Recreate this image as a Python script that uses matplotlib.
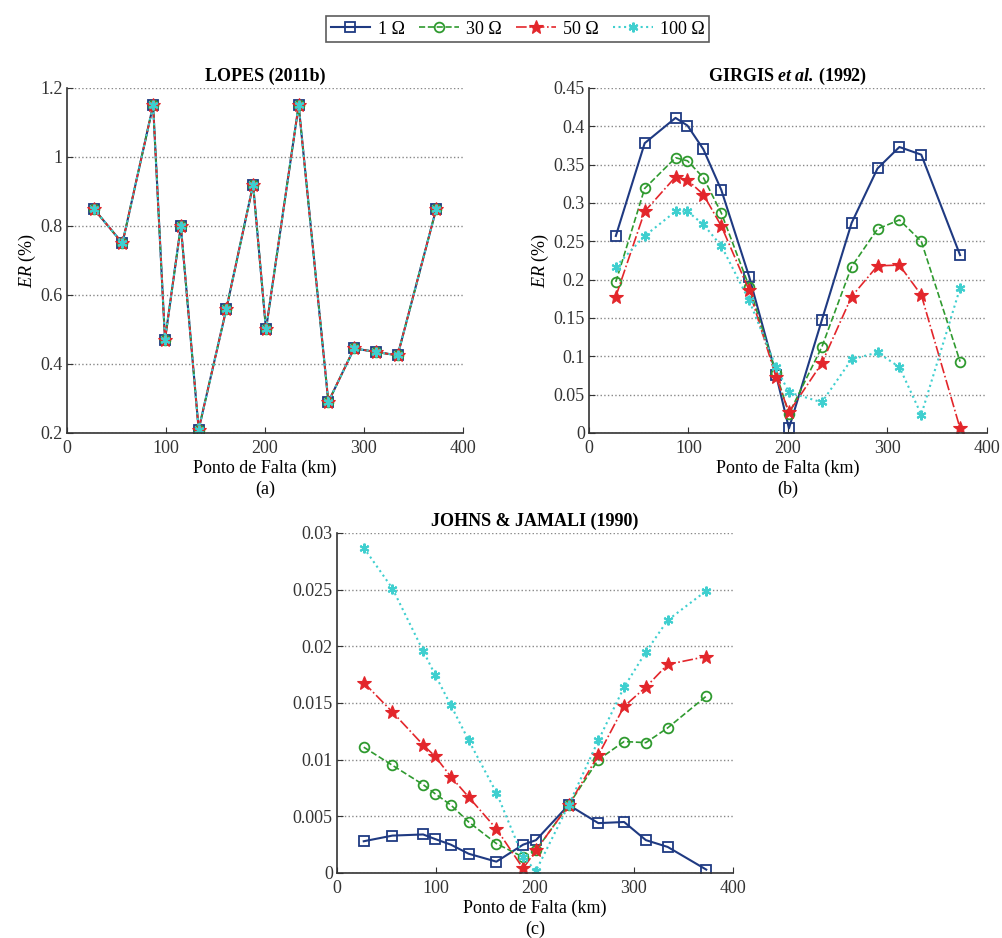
import matplotlib
matplotlib.use("Agg")
import matplotlib.pyplot as plt
from matplotlib.ticker import FuncFormatter

plt.rcParams['font.family'] = ['Liberation Serif', 'DejaVu Serif']
plt.rcParams['mathtext.fontset'] = 'custom'
plt.rcParams['mathtext.rm'] = 'Liberation Serif'
plt.rcParams['mathtext.it'] = 'Liberation Serif:italic'
plt.rcParams['mathtext.sf'] = 'Liberation Serif:italic:bold'

# fault points (km)
x = [27, 56, 87, 99, 115, 133, 161, 188, 201, 234, 264, 290, 312, 334, 373]

# (a) LOPES (2011b) - all resistances give the same error
lopes = [0.85, 0.75, 1.15, 0.47, 0.80, 0.21, 0.56, 0.92, 0.50, 1.15, 0.29, 0.445, 0.435, 0.425, 0.85]

# (b) GIRGIS et al. (1992)
girgis_1 = [0.257, 0.378, 0.411, 0.401, 0.370, 0.317, 0.204, 0.076, 0.006, 0.147, 0.274, 0.345, 0.373, 0.363, 0.232]
girgis_30 = [0.197, 0.319, 0.359, 0.355, 0.333, 0.287, 0.191, 0.078, 0.025, 0.112, 0.217, 0.266, 0.278, 0.250, 0.093]
girgis_50 = [0.178, 0.289, 0.334, 0.330, 0.311, 0.270, 0.186, 0.073, 0.027, 0.091, 0.178, 0.218, 0.219, 0.180, 0.006]
girgis_100 = [0.217, 0.257, 0.289, 0.289, 0.272, 0.244, 0.173, 0.086, 0.053, 0.040, 0.096, 0.105, 0.086, 0.024, 0.189]

# (c) JOHNS & JAMALI (1990)
johns_1 = [0.0028, 0.0033, 0.0034, 0.0030, 0.0025, 0.0017, 0.0010, 0.0025, 0.0029, 0.0060, 0.0044, 0.0045, 0.0029, 0.0023, 0.0003]
johns_30 = [0.0111, 0.0095, 0.0078, 0.0070, 0.0060, 0.0045, 0.0026, 0.0014, 0.0020, 0.0060, 0.0100, 0.0116, 0.0115, 0.0128, 0.0156]
johns_50 = [0.0168, 0.0142, 0.0113, 0.0103, 0.0085, 0.0067, 0.0039, 0.0004, 0.0020, 0.0060, 0.0104, 0.0147, 0.0164, 0.0184, 0.0191]
johns_100 = [0.0287, 0.0251, 0.0196, 0.0175, 0.0148, 0.0117, 0.0071, 0.0014, 0.0002, 0.0060, 0.0117, 0.0164, 0.0195, 0.0223, 0.0249]

labels = ['1 Ω', '30 Ω', '50 Ω', '100 Ω']
navy = '#1f3a82'
green = '#2f9a2f'
red = '#e3262b'
cyan = '#3fcfcf'
asterisk = (6, 2, 0)

styles = [
    dict(color=navy, ls='-', lw=1.5, marker='s', ms=7, mfc='none', mew=1.3),
    dict(color=green, ls='--', lw=1.2, marker='o', ms=7, mfc='none', mew=1.3),
    dict(color=red, ls='-.', lw=1.2, marker='*', ms=10, mfc=red, mew=0.8),
    dict(color=cyan, ls=':', lw=1.5, marker=asterisk, ms=7, mfc=cyan, mew=1.5),
]

FS = 13

fig = plt.figure(figsize=(10.03, 9.38), dpi=100)
ax_a = fig.add_axes([0.0668, 0.5384, 0.3948, 0.3678])
ax_b = fig.add_axes([0.5872, 0.5384, 0.3968, 0.3678])
ax_c = fig.add_axes([0.336, 0.0693, 0.3948, 0.3625])

fmt = FuncFormatter(lambda v, p: ('%g' % round(v, 6)))


def style_axes(ax, yticks, title, tag, ylabel=True):
    ax.set_xlim(0, 400)
    ax.set_ylim(yticks[0], yticks[-1])
    ax.set_xticks([0, 100, 200, 300, 400])
    ax.set_yticks(yticks)
    ax.yaxis.set_major_formatter(fmt)
    ax.spines['top'].set_visible(False)
    ax.spines['right'].set_visible(False)
    for s in ('left', 'bottom'):
        ax.spines[s].set_linewidth(1.2)
        ax.spines[s].set_color('#333333')
    ax.tick_params(direction='in', length=4, labelsize=FS, colors='#333333')
    ax.tick_params(axis='x', pad=5)
    ax.tick_params(axis='y', pad=3)
    ax.yaxis.grid(True, ls=':', color='#888888', lw=1.0)
    ax.set_axisbelow(True)
    ax.set_title(title, fontsize=FS, fontweight='bold', pad=5)
    ax.set_xlabel('Ponto de Falta (km)', fontsize=FS, labelpad=2)
    if ylabel:
        ax.set_ylabel(r'$\mathit{ER}$ (%)', fontsize=FS, labelpad=2)
    fig_h = ax.get_position().height * 938
    ax.text(0.5, -56 / fig_h, tag, transform=ax.transAxes, ha='center', va='center', fontsize=FS)


lines = []
for st, lab in zip(styles, labels):
    ax_a.plot(x, lopes, **st)
for ys, st, lab in zip([girgis_1, girgis_30, girgis_50, girgis_100], styles, labels):
    h, = ax_b.plot(x, ys, label=lab, **st)
    lines.append(h)
for ys, st in zip([johns_1, johns_30, johns_50, johns_100], styles):
    ax_c.plot(x, ys, **st)

style_axes(ax_a, [0.2, 0.4, 0.6, 0.8, 1.0, 1.2], 'LOPES (2011b)', '(a)')
style_axes(ax_b, [0, 0.05, 0.1, 0.15, 0.2, 0.25, 0.3, 0.35, 0.4, 0.45],
           r'GIRGIS $\mathsf{et\ al.}\,$(1992)', '(b)')
style_axes(ax_c, [0, 0.005, 0.01, 0.015, 0.02, 0.025, 0.03],
           'JOHNS & JAMALI (1990)', '(c)', ylabel=False)

leg = fig.legend(handles=lines, loc='center', bbox_to_anchor=(0.516, 0.969), ncol=4,
                 fontsize=FS, frameon=True, fancybox=False, edgecolor='#333333',
                 handlelength=2.2, columnspacing=0.8, borderpad=0.25, handletextpad=0.4)
leg.get_frame().set_linewidth(1.2)

fig.savefig('out.png', dpi=100)
